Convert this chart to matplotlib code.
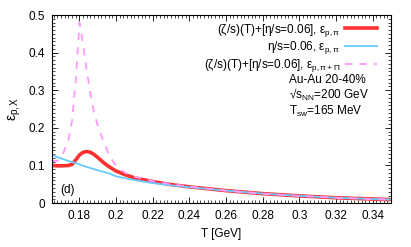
import matplotlib
matplotlib.use("Agg")
import matplotlib.pyplot as plt
from matplotlib.ticker import MultipleLocator

plt.rcParams['font.family'] = ['Liberation Sans', 'DejaVu Sans']
plt.rcParams['mathtext.fontset'] = 'custom'
plt.rcParams['mathtext.rm'] = 'Liberation Sans'
plt.rcParams['mathtext.it'] = 'Liberation Sans'

T = [0.165, 0.168, 0.171, 0.174, 0.176, 0.178, 0.180, 0.182, 0.184, 0.186,
     0.188, 0.190, 0.193, 0.196, 0.200, 0.205, 0.210, 0.220, 0.230, 0.240,
     0.260, 0.280, 0.300, 0.320, 0.350]
eps_bulk = [0.100, 0.099, 0.099, 0.100, 0.103, 0.115, 0.128, 0.135, 0.137, 0.135,
            0.129, 0.121, 0.108, 0.097, 0.085, 0.075, 0.067, 0.057, 0.049, 0.043,
            0.033, 0.025, 0.019, 0.014, 0.009]
eps_shear = [0.128, 0.122, 0.117, 0.112, 0.109, 0.106, 0.103, 0.099, 0.096, 0.093,
             0.090, 0.087, 0.083, 0.079, 0.071, 0.066, 0.061, 0.053, 0.047, 0.042,
             0.033, 0.025, 0.019, 0.014, 0.009]
eps_bulk_Pi = [0.112, 0.112, 0.130, 0.170, 0.220, 0.330, 0.480, 0.420, 0.350, 0.290,
               0.240, 0.205, 0.165, 0.130, 0.098, 0.080, 0.070, 0.058, 0.050, 0.044,
               0.033, 0.025, 0.019, 0.014, 0.009]

fig = plt.figure(figsize=(4.11, 2.47), dpi=100)
ax = fig.add_axes([0.1265, 0.178, 0.825, 0.761])

ax.plot(T, eps_bulk, color='#ff3030', lw=2.6,
        label=r'($\zeta$/s)(T)+[$\eta$/s=0.06], $\varepsilon_{\rm p,\pi}$')
ax.plot(T, eps_shear, color='#66ccff', lw=1.3,
        label=r'$\eta$/s=0.06, $\varepsilon_{\rm p,\pi}$')
ax.plot(T, eps_bulk_Pi, color='#ff99ff', lw=1.3, ls=(0, (4, 4)),
        label=r'($\zeta$/s)(T)+[$\eta$/s=0.06], $\varepsilon_{\rm p,\pi+\Pi}$')

ax.set_xlim(0.165, 0.35)
ax.set_ylim(0, 0.5)
ax.set_xticks([0.18, 0.2, 0.22, 0.24, 0.26, 0.28, 0.3, 0.32, 0.34],
              ['0.18', '0.2', '0.22', '0.24', '0.26', '0.28', '0.3', '0.32', '0.34'])
ax.set_yticks([0, 0.1, 0.2, 0.3, 0.4, 0.5], ['0', '0.1', '0.2', '0.3', '0.4', '0.5'])
ax.xaxis.set_minor_locator(MultipleLocator(0.002))
ax.yaxis.set_minor_locator(MultipleLocator(0.01))
ax.tick_params(which='both', direction='in', top=True, right=True, labelsize=8.5, pad=5)
ax.tick_params(which='major', length=4, width=0.6)
ax.tick_params(which='minor', length=2, width=0.5)
for s in ax.spines.values():
    s.set_linewidth(0.8)

ax.set_xlabel('T [GeV]', fontsize=8.5, labelpad=4)
ax.set_ylabel(r'$\varepsilon_{\rm p,X}$', fontsize=10, labelpad=4)

ax.legend(loc='upper right', frameon=False, fontsize=8.5, markerfirst=False,
          handlelength=2.7, handletextpad=0.45, labelspacing=0.05,
          borderaxespad=0, borderpad=0, bbox_to_anchor=(0.959, 0.965))

ax.text(0.70, 0.685, 'Au-Au 20-40%\n' + '√s$_{\\rm NN}$=200 GeV' + '\n'
        + r'T$_{\rm sw}$=165 MeV', transform=ax.transAxes, fontsize=8.5,
        va='top', ha='left', linespacing=1.05)
ax.text(0.025, 0.04, '(d)', transform=ax.transAxes, fontsize=8.5, va='bottom')

fig.savefig('out.png', dpi=100)
